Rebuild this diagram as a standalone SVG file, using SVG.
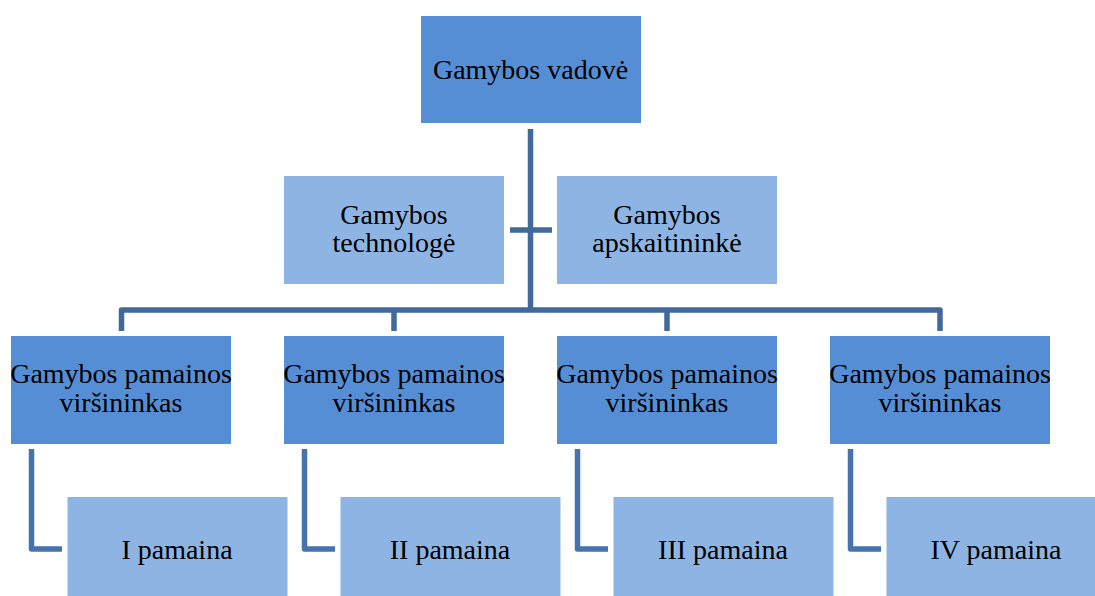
<svg xmlns="http://www.w3.org/2000/svg" width="1095" height="596" viewBox="0 0 1095 596">
<style>
.dark{fill:#558ED5;}
.light{fill:#8EB4E3;}
text{font-family:'Liberation Serif',serif;font-size:28px;fill:#000;text-anchor:middle;}
.conn{fill:none;stroke:#41699C;stroke-width:5.5;stroke-linejoin:round;}
.conn2{fill:none;stroke:#4673AD;stroke-width:5.5;stroke-linejoin:round;}
</style>
<rect width="1095" height="596" fill="#ffffff"/>
<g id="connectors">
<path class="conn" d="M530.5 129 V310"/>
<path class="conn" d="M510 230 H552"/>
<path class="conn" d="M121.5 331 V310 H940 V331"/>
<path class="conn" d="M394 310 V331"/>
<path class="conn" d="M667 310 V331"/>
<path class="conn2" d="M31.5 449 V549 H62"/>
<path class="conn2" d="M304.5 449 V549 H335"/>
<path class="conn2" d="M577.5 449 V549 H608"/>
<path class="conn2" d="M850.5 449 V549 H881"/>
</g>
<g id="vadove">
<rect class="dark" x="421" y="16" width="220" height="107"/>
<text x="530.5" y="79">Gamybos vadovė</text>
</g>
<g id="technologe">
<rect class="light" x="284" y="176" width="220" height="108"/>
<text x="394" y="224">Gamybos</text>
<text x="394" y="252">technologė</text>
</g>
<g id="apskaitininke">
<rect class="light" x="557" y="176" width="220" height="108"/>
<text x="667" y="224">Gamybos</text>
<text x="667" y="252">apskaitininkė</text>
</g>
<g id="virsininkas1">
<rect class="dark" x="11" y="336" width="220" height="108"/>
<text x="121" y="383">Gamybos pamainos</text>
<text x="121" y="412">viršininkas</text>
</g>
<g id="virsininkas2">
<rect class="dark" x="284" y="336" width="220" height="108"/>
<text x="394" y="383">Gamybos pamainos</text>
<text x="394" y="412">viršininkas</text>
</g>
<g id="virsininkas3">
<rect class="dark" x="557" y="336" width="220" height="108"/>
<text x="667" y="383">Gamybos pamainos</text>
<text x="667" y="412">viršininkas</text>
</g>
<g id="virsininkas4">
<rect class="dark" x="830" y="336" width="220" height="108"/>
<text x="940" y="383">Gamybos pamainos</text>
<text x="940" y="412">viršininkas</text>
</g>
<g id="pamaina1">
<rect class="light" x="67.5" y="497" width="220" height="108"/>
<text x="177" y="559">I pamaina</text>
</g>
<g id="pamaina2">
<rect class="light" x="340.5" y="497" width="220" height="108"/>
<text x="450" y="559">II pamaina</text>
</g>
<g id="pamaina3">
<rect class="light" x="613.5" y="497" width="220" height="108"/>
<text x="723" y="559">III pamaina</text>
</g>
<g id="pamaina4">
<rect class="light" x="886.5" y="497" width="220" height="108"/>
<text x="996" y="559">IV pamaina</text>
</g>
</svg>
